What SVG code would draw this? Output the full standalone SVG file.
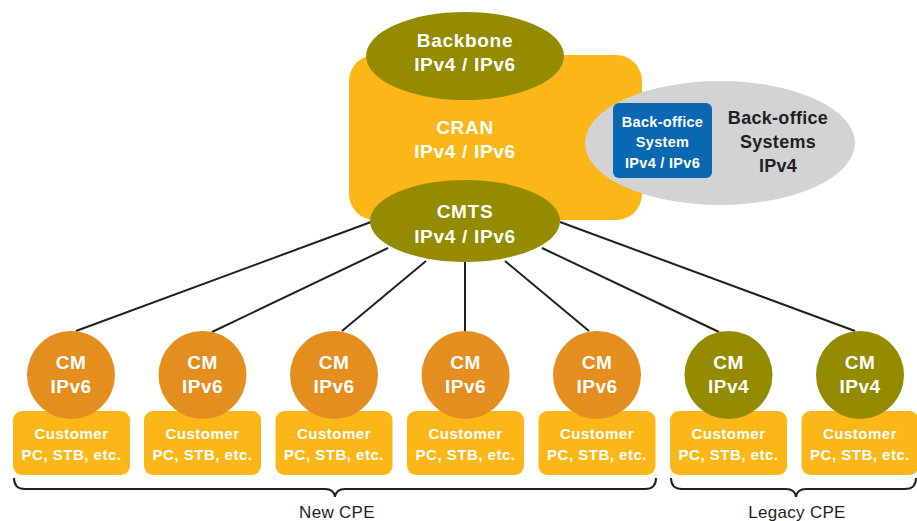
<svg xmlns="http://www.w3.org/2000/svg" width="917" height="521" viewBox="0 0 917 521">
  <style>
    .olive { fill: #958b00; }
    .yellow { fill: #fbb717; }
    .orange { fill: #e38e1e; }
    .gray { fill: #d2d3d5; }
    .blue { fill: #0a67b2; }
    text { font-family: "Liberation Sans", Arial, sans-serif; font-weight: bold; text-anchor: middle; letter-spacing: 0.5px; }
    .w { fill: #ffffff; }
    .big { font-size: 19px; letter-spacing: 0.7px; }
    .cm { font-size: 19px; }
    .cust { font-size: 15px; }
    .bo { font-size: 14.5px; letter-spacing: 0.3px; }
    .bos { font-size: 18px; fill: #231f20; letter-spacing: 0.3px; }
    .lbl { font-size: 17px; font-weight: normal; fill: #231f20; letter-spacing: 0.3px; }
    .conn line { stroke: #231f20; stroke-width: 2; }
    .brace { fill: none; stroke: #231f20; stroke-width: 2; }
  </style>

  <!-- core network -->
  <g id="cran">
    <rect class="yellow" x="349" y="55" width="293" height="165" rx="26"/>
    <text class="w big" x="465" y="134">CRAN</text>
    <text class="w big" x="465" y="158">IPv4 / IPv6</text>
  </g>

  <g id="backoffice-systems">
    <ellipse class="gray" cx="720" cy="143" rx="135" ry="62"/>
    <text class="bos" x="778" y="124">Back-office</text>
    <text class="bos" x="778" y="148">Systems</text>
    <text class="bos" x="778" y="172">IPv4</text>
  </g>

  <g id="backoffice-system">
    <rect class="blue" x="613" y="103" width="99" height="75" rx="6"/>
    <text class="w bo" x="662.5" y="127">Back-office</text>
    <text class="w bo" x="662.5" y="147">System</text>
    <text class="w bo" x="662.5" y="168">IPv4 / IPv6</text>
  </g>

  <g id="backbone">
    <ellipse class="olive" cx="465" cy="56" rx="99" ry="44"/>
    <text class="w big" x="465" y="47">Backbone</text>
    <text class="w big" x="465" y="71">IPv4 / IPv6</text>
  </g>

  <!-- links from the CMTS to each cable modem -->
  <g id="connectors" class="conn">
    <line x1="371" y1="222" x2="76" y2="331"/>
    <line x1="388" y1="248" x2="212" y2="332"/>
    <line x1="426" y1="261" x2="342" y2="331"/>
    <line x1="465" y1="262" x2="465" y2="331"/>
    <line x1="505" y1="261" x2="589" y2="331"/>
    <line x1="542" y1="248" x2="719" y2="332"/>
    <line x1="560" y1="222" x2="855" y2="331"/>
  </g>

  <g id="cmts">
    <ellipse class="olive" cx="465" cy="221" rx="95" ry="41"/>
    <text class="w big" x="465" y="218">CMTS</text>
    <text class="w big" x="465" y="243">IPv4 / IPv6</text>
  </g>

  <!-- customer premises: cable modem over customer equipment -->
  <g id="cpe1">
    <rect class="yellow" x="13" y="411" width="117" height="64" rx="9"/>
    <circle class="orange" cx="71" cy="375" r="44"/>
    <text class="w cm" x="71" y="369">CM</text>
    <text class="w cm" x="71" y="393">IPv6</text>
    <text class="w cust" x="71.5" y="439">Customer</text>
    <text class="w cust" x="71.5" y="460">PC, STB, etc.</text>
  </g>
  <g id="cpe2">
    <rect class="yellow" x="144" y="411" width="117" height="64" rx="9"/>
    <circle class="orange" cx="202.5" cy="375" r="44"/>
    <text class="w cm" x="202.5" y="369">CM</text>
    <text class="w cm" x="202.5" y="393">IPv6</text>
    <text class="w cust" x="202.5" y="439">Customer</text>
    <text class="w cust" x="202.5" y="460">PC, STB, etc.</text>
  </g>
  <g id="cpe3">
    <rect class="yellow" x="275.5" y="411" width="117" height="64" rx="9"/>
    <circle class="orange" cx="334" cy="375" r="44"/>
    <text class="w cm" x="334" y="369">CM</text>
    <text class="w cm" x="334" y="393">IPv6</text>
    <text class="w cust" x="334" y="439">Customer</text>
    <text class="w cust" x="334" y="460">PC, STB, etc.</text>
  </g>
  <g id="cpe4">
    <rect class="yellow" x="407" y="411" width="117" height="64" rx="9"/>
    <circle class="orange" cx="465.5" cy="375" r="44"/>
    <text class="w cm" x="465.5" y="369">CM</text>
    <text class="w cm" x="465.5" y="393">IPv6</text>
    <text class="w cust" x="465.5" y="439">Customer</text>
    <text class="w cust" x="465.5" y="460">PC, STB, etc.</text>
  </g>
  <g id="cpe5">
    <rect class="yellow" x="538.5" y="411" width="117" height="64" rx="9"/>
    <circle class="orange" cx="597" cy="375" r="44"/>
    <text class="w cm" x="597" y="369">CM</text>
    <text class="w cm" x="597" y="393">IPv6</text>
    <text class="w cust" x="597" y="439">Customer</text>
    <text class="w cust" x="597" y="460">PC, STB, etc.</text>
  </g>
  <g id="cpe6">
    <rect class="yellow" x="670" y="411" width="117" height="64" rx="9"/>
    <circle class="olive" cx="728.5" cy="375" r="44"/>
    <text class="w cm" x="728.5" y="369">CM</text>
    <text class="w cm" x="728.5" y="393">IPv4</text>
    <text class="w cust" x="728.5" y="439">Customer</text>
    <text class="w cust" x="728.5" y="460">PC, STB, etc.</text>
  </g>
  <g id="cpe7">
    <rect class="yellow" x="801.5" y="411" width="117" height="64" rx="9"/>
    <circle class="olive" cx="860" cy="375" r="44"/>
    <text class="w cm" x="860" y="369">CM</text>
    <text class="w cm" x="860" y="393">IPv4</text>
    <text class="w cust" x="860" y="439">Customer</text>
    <text class="w cust" x="860" y="460">PC, STB, etc.</text>
  </g>

  <!-- grouping braces -->
  <g id="new-cpe">
    <path class="brace" d="M14,478 Q14,489 25,489 L325,489 Q334,489 335,497 Q336,489 345,489 L645,489 Q656,489 656,478"/>
    <text class="lbl" x="337" y="518">New CPE</text>
  </g>
  <g id="legacy-cpe">
    <path class="brace" d="M671,478 Q671,489 682,489 L786,489 Q795,489 796,497 Q797,489 806,489 L905,489 Q916,489 916,478"/>
    <text class="lbl" x="797" y="518">Legacy CPE</text>
  </g>
</svg>
